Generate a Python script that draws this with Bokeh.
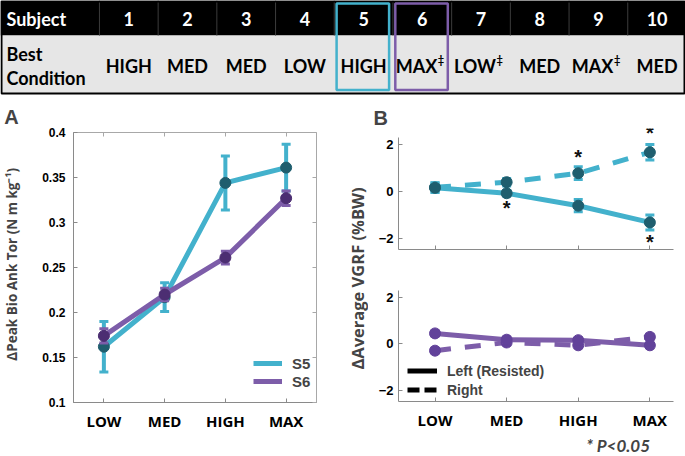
import math
from bokeh.plotting import figure
from bokeh.layouts import row, column
from bokeh.models import (Range1d, LinearAxis, FixedTicker, Label, LabelSet,
                          ColumnDataSource, Legend, LegendItem, CustomLabelingPolicy)
from bokeh.embed import file_html
from bokeh.resources import INLINE
from bokeh.core.properties import value

# ---------------- data ----------------
subjects = ["1", "2", "3", "4", "5", "6", "7", "8", "9", "10"]
best_condition = ["HIGH", "MED", "MED", "LOW", "HIGH", "MAX‡", "LOW‡", "MED", "MAX‡", "MED"]
highlighted_subjects = ["5", "6"]
conditions = ["LOW", "MED", "HIGH", "MAX"]

torque_s5 = [0.162, 0.217, 0.344, 0.361]
torque_s5_err = [0.028, 0.016, 0.030, 0.026]
torque_s6 = [0.174, 0.220, 0.261, 0.327]
torque_s6_err = [0.008, 0.007, 0.007, 0.008]
torque_yticks = [0.1, 0.15, 0.2, 0.25, 0.3, 0.35, 0.4]

vgrf_s5_left = [0.14, -0.09, -0.62, -1.33]
vgrf_s5_left_err = [0.20, 0.12, 0.26, 0.32]
vgrf_s5_right = [0.16, 0.38, 0.76, 1.65]
vgrf_s5_right_err = [0.20, 0.16, 0.27, 0.33]
vgrf_s6_left = [0.44, 0.17, 0.15, -0.07]
vgrf_s6_left_err = [0.11, 0.12, 0.10, 0.10]
vgrf_s6_right = [-0.30, 0.05, -0.07, 0.29]
vgrf_s6_right_err = [0.10, 0.11, 0.10, 0.11]
vgrf_yticks = [-2, 0, 2]
sig_s5_left = [False, True, False, True]
sig_s5_right = [False, False, True, True]

# ---------------- styles ----------------
CYAN = "#43b1cc"
CYAN_DARK = "#1f5e6e"
PURPLE = "#7d5da9"
PURPLE_DARK = "#4c2e72"
PURPLE_MID = "#62429a"
AXIS_GRAY = "#8a8a8a"
LATO = value("Lato")
ARIAL = value("Liberation Sans")
NO_LABELS = "return new Set()"
COMMON = dict(toolbar_location=None, output_backend="svg")

xs = list(range(1, len(conditions) + 1))
cond_labels = {i + 1: c for i, c in enumerate(conditions)}

ROW_H = 361
A_TOP, A_BOTTOM = 37, 54   # frame borders of panel A (row siblings share them)


def blank(w, h, top=0, bottom=0):
    """Figure in pixel coordinates (y down) whose frame spans rows top..h-bottom."""
    return figure(width=w, height=h, x_range=Range1d(0, w), y_range=Range1d(h - bottom, top),
                  x_axis_type=None, y_axis_type=None, min_border=0, min_border_top=top,
                  min_border_bottom=bottom, outline_line_color=None, **COMMON)


# ---------------- table ----------------
t = blank(685, 95)
COL0, COLW = 128.3, 58.7
col_x = [COL0 + i * COLW for i in range(len(subjects))]
t.quad(left=0, right=685, top=0, bottom=35, fill_color="black", line_color=None)
t.quad(left=0, right=685, top=35, bottom=93, fill_color="#e6e6e6", line_color=None)
sep = [c - COLW / 2 for c in col_x]
t.segment(x0=sep, y0=0, x1=sep, y1=35, line_color="#3c3c3c", line_width=1)
t.quad(left=1, right=684, top=1, bottom=93, fill_color=None, line_color="black", line_width=2)

tkw = dict(text_font=LATO, text_font_style="bold", text_font_size="18px", text_baseline="middle")
t.text(x=[6], y=[18], text=["Subject"], text_color="white", text_align="left", **tkw)
t.text(x=col_x, y=18, text=subjects, text_color="white", text_align="center", **tkw)
t.text(x=[6, 6], y=[53, 77], text=["Best", "Condition"], text_color="black", text_align="left", **tkw)
plain = [(x, s) for x, s in zip(col_x, best_condition) if not s.endswith("‡")]
marked = [(x, s[:-1]) for x, s in zip(col_x, best_condition) if s.endswith("‡")]
t.text(x=[p[0] for p in plain], y=65, text=[p[1] for p in plain], text_color="black",
       text_align="center", **tkw)
t.text(x=[p[0] + 15 for p in marked], y=65, text=[p[1] for p in marked], text_color="black",
       text_align="right", **tkw)
t.text(x=[p[0] + 15.5 for p in marked], y=59, text=["‡"] * len(marked), text_color="black",
       text_align="left", text_font=LATO, text_font_style="bold", text_font_size="11px",
       text_baseline="middle")
hx = [col_x[subjects.index(s)] for s in highlighted_subjects]
t.quad(left=[x - 27 for x in hx], right=[x + 25.5 for x in hx], top=3, bottom=89.5,
       fill_color=None, line_color=[CYAN, PURPLE], line_width=2.5)


def style_axis(ax, size="12px"):
    ax.major_tick_in = 4
    ax.major_tick_out = 0
    ax.minor_tick_in = 0
    ax.minor_tick_out = 0
    ax.axis_line_color = AXIS_GRAY
    ax.major_tick_line_color = AXIS_GRAY
    ax.major_label_text_font = "Liberation Sans"
    ax.major_label_text_font_style = "bold"
    ax.major_label_text_font_size = size
    ax.major_label_text_color = "black"


def hide_labels(ax):
    ax.major_label_policy = CustomLabelingPolicy(code=NO_LABELS)
    ax.major_label_standoff = 0


def draw_series(p, y, err, line_color, marker_color, dash="solid"):
    lo = [a - e for a, e in zip(y, err)]
    hi = [a + e for a, e in zip(y, err)]
    r = p.line(xs, y, line_color=line_color, line_width=5, line_dash=dash)
    p.segment(x0=xs, y0=lo, x1=xs, y1=hi, line_color=line_color, line_width=4)
    p.scatter(xs + xs, lo + hi, marker="dash", size=9, line_color=line_color, line_width=3)
    p.scatter(xs, y, size=11, fill_color=marker_color, line_color=marker_color)
    return r


# ---------------- panel A ----------------
la = blank(22, ROW_H, A_TOP, A_BOTTOM)
la.title.text = "A"
la.title.align = "center"
la.title.standoff = 9
la.title.text_font = "Liberation Sans"
la.title.text_font_style = "bold"
la.title.text_font_size = "20px"
la.add_layout(Label(x=11, y=167, text="ΔPeak Bio Ank Tor  (N m kg⁻¹)", angle=math.pi / 2,
                    text_align="center", text_baseline="middle", text_font="Open Sans",
                    text_font_style="bold", text_font_size="13.5px"))

pa = figure(width=318, height=ROW_H, x_range=Range1d(0.5, 4.5), y_range=Range1d(0.1, 0.4),
            min_border_left=51, min_border_right=9, min_border_top=A_TOP,
            min_border_bottom=A_BOTTOM, outline_line_color="#a8a8a8", **COMMON)
pa.grid.visible = False
pa.xaxis.ticker = FixedTicker(ticks=xs)
pa.xaxis.major_label_overrides = cond_labels
pa.yaxis.ticker = FixedTicker(ticks=torque_yticks)
pa.yaxis.major_label_overrides = {v: f"{v:g}" for v in torque_yticks}
style_axis(pa.xaxis[0])
style_axis(pa.yaxis[0])
pa.xaxis.major_label_text_font = "Open Sans"
pa.xaxis.major_label_text_font_size = "15px"
pa.xaxis.major_label_standoff = 8
pa.yaxis.major_label_standoff = 8
for loc, tk in (("right", torque_yticks), ("above", xs)):
    ax = LinearAxis(ticker=FixedTicker(ticks=tk), major_tick_in=4, major_tick_out=0,
                    minor_tick_in=0, minor_tick_out=0, axis_line_color=None,
                    major_tick_line_color="#a8a8a8")
    hide_labels(ax)
    pa.add_layout(ax, loc)

r5 = draw_series(pa, torque_s5, torque_s5_err, CYAN, CYAN_DARK)
r6 = draw_series(pa, torque_s6, torque_s6_err, PURPLE, PURPLE_DARK)
legA = Legend(items=[LegendItem(label="S5", renderers=[r5]), LegendItem(label="S6", renderers=[r6])],
              location=(180, 12), background_fill_alpha=0, border_line_color=None,
              glyph_width=29, glyph_height=18, label_height=18, spacing=0, padding=0,
              margin=0, label_standoff=10, label_text_font="Liberation Sans",
              label_text_font_style="bold", label_text_font_size="15px")
pa.add_layout(legA)

# ---------------- panel B label column ----------------
lb = blank(28, ROW_H, A_TOP, A_BOTTOM)
lb.add_layout(Label(x=17, y=183, text="ΔAverage VGRF (%BW)", angle=math.pi / 2,
                    text_align="center", text_baseline="middle", text_font="Open Sans",
                    text_font_style="bold", text_font_size="16.5px"))

# ---------------- panel B ----------------
BX = (0.49, 4.33)
BY = (-2.48, 2.28)
PX_UNIT = 23.6


def b_fig(height, top, bottom, ytop):
    p = figure(width=317, height=height, x_range=Range1d(*BX), y_range=Range1d(BY[0], ytop),
               min_border_left=30, min_border_right=12, min_border_top=top,
               min_border_bottom=bottom, outline_line_color=None, **COMMON)
    p.grid.visible = False
    p.xaxis.ticker = FixedTicker(ticks=xs)
    p.xaxis.major_label_overrides = cond_labels
    p.yaxis.ticker = FixedTicker(ticks=vgrf_yticks)
    p.yaxis.bounds = BY
    style_axis(p.xaxis[0])
    style_axis(p.yaxis[0], "13px")
    p.yaxis.major_label_standoff = 5
    return p


pb1 = b_fig(175, 33, 21, 2.66)
hide_labels(pb1.xaxis[0])
draw_series(pb1, vgrf_s5_right, vgrf_s5_right_err, CYAN, CYAN_DARK, dash="16 14")
draw_series(pb1, vgrf_s5_left, vgrf_s5_left_err, CYAN, CYAN_DARK)

GAP = 0.45
STAR_SHIFT = 3 / PX_UNIT
sx_, sy_ = [], []
for i, s in enumerate(sig_s5_left):
    if s:
        sx_.append(xs[i])
        sy_.append(vgrf_s5_left[i] - vgrf_s5_left_err[i] - GAP + 0.05 - STAR_SHIFT)
for i, s in enumerate(sig_s5_right):
    if s:
        sx_.append(xs[i])
        sy_.append(vgrf_s5_right[i] + vgrf_s5_right_err[i] + GAP + 0.05 * i - STAR_SHIFT)
stars = ColumnDataSource(dict(x=sx_, y=sy_, t=["*"] * len(sx_)))
pb1.add_layout(LabelSet(x="x", y="y", text="t", source=stars, text_align="center",
                        text_baseline="middle", text_font=ARIAL, text_font_style="bold",
                        text_font_size="20px", text_color="#111111"))

pb1.title.text = "B"
pb1.title.align = "left"
pb1.title.offset = -25
pb1.title.standoff = 0
pb1.title.text_font = "Liberation Sans"
pb1.title.text_font_style = "bold"
pb1.title.text_font_size = "20px"

pb2 = b_fig(162, 20, 29, BY[1])
pb2.xaxis.major_label_text_font = "Open Sans"
pb2.xaxis.major_label_text_font_size = "15px"
pb2.xaxis.major_label_standoff = 8
draw_series(pb2, vgrf_s6_right, vgrf_s6_right_err, PURPLE, PURPLE_MID, dash="16 14")
draw_series(pb2, vgrf_s6_left, vgrf_s6_left_err, PURPLE, PURPLE_MID)
nan = float("nan")
l_solid = pb2.line(x=[nan], y=[nan], line_color="black", line_width=5)
l_dash = pb2.line(x=[nan], y=[nan], line_color="black", line_width=5, line_dash="12 5")
legB = Legend(items=[LegendItem(label="Left (Resisted)", renderers=[l_solid]),
                     LegendItem(label="Right", renderers=[l_dash])],
              location=(9, 2), background_fill_alpha=0, border_line_color=None,
              glyph_width=30, glyph_height=19, label_height=19, spacing=0, padding=0,
              margin=0, label_standoff=10, label_text_font="Liberation Sans",
              label_text_font_style="bold", label_text_font_size="14px")
pb2.add_layout(legB)

pf = blank(317, 24)
pf.add_layout(Label(x=290, y=13, text="* P<0.05", text_font="Lato",
                    text_font_style="bold italic", text_font_size="17px",
                    text_align="right", text_baseline="middle"))

layout = column(t, row(la, pa, lb, column(pb1, pb2, pf)))
open("out.html", "w").write(file_html(layout, INLINE))
